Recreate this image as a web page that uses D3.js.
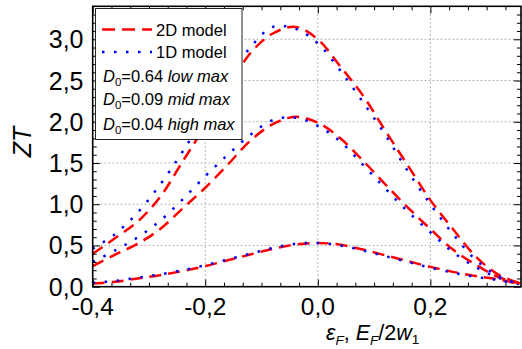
<!DOCTYPE html>
<html>
<head>
<meta charset="utf-8">
<script src="https://cdn.jsdelivr.net/npm/d3@7"></script>
<style>
  html, body { margin: 0; padding: 0; background: #fff; }
  svg { display: block; }
  text { font-family: "Liberation Sans", Arial, sans-serif; }
</style>
</head>
<body>
<svg id="chart" width="522" height="349"></svg>
<script>
// ---- data ----
const xValues = [-0.40,-0.36,-0.32,-0.28,-0.24,-0.20,-0.16,-0.12,-0.08,-0.04,0.00,0.04,0.08,0.12,0.16,0.20,0.24,0.28,0.32,0.36];
const high2D = [0.40,0.59,0.79,1.09,1.52,1.95,2.40,2.83,3.07,3.15,3.00,2.67,2.32,1.89,1.47,1.05,0.70,0.37,0.15,0.04];
const high1D = [0.46,0.64,0.90,1.24,1.64,2.08,2.52,2.90,3.15,3.13,2.95,2.62,2.24,1.84,1.40,1.00,0.64,0.33,0.13,0.03];
const mid2D  = [0.25,0.39,0.52,0.70,0.95,1.20,1.48,1.77,1.97,2.06,1.99,1.80,1.53,1.24,0.96,0.70,0.45,0.27,0.12,0.04];
const mid1D  = [0.30,0.44,0.60,0.80,1.06,1.34,1.60,1.84,2.02,2.05,1.95,1.76,1.48,1.19,0.91,0.66,0.42,0.24,0.11,0.03];
const low2D  = [0.04,0.06,0.10,0.14,0.19,0.25,0.32,0.39,0.46,0.51,0.53,0.51,0.45,0.38,0.31,0.24,0.18,0.13,0.09,0.03];
const low1D  = [0.05,0.07,0.11,0.15,0.20,0.26,0.33,0.40,0.47,0.52,0.53,0.50,0.44,0.37,0.30,0.23,0.17,0.12,0.08,0.03];
const xTickValues = [-0.4,-0.2,0.0,0.2];
const yTickValues = [0.0,0.5,1.0,1.5,2.0,2.5,3.0];
const legendModels = ["2D model","1D model"];
const legendD0 = [["0.64","low max"],["0.09","mid max"],["0.04","high max"]];

// ---- layout ----
const L = 92.7, R = 521, T = 6.3, B = 286.7;
const x = d3.scaleLinear().domain([-0.4, 0.361]).range([L, R]);
const y = d3.scaleLinear().domain([0, 3.4]).range([B, T]);
const svg = d3.select("#chart");
const fmt = v => d3.format(".1f")(v).replace(".", ",").replace("\u2212", "-");

svg.append("defs").append("clipPath").attr("id","clip")
  .append("rect").attr("x",L).attr("y",T).attr("width",R-L).attr("height",B-T);

// grid
const grid = svg.append("g").attr("stroke","#a0a0a0").attr("stroke-width",1).attr("stroke-dasharray","1.5,2.5");
grid.selectAll("line.gx").data([-0.2,0,0.2]).join("line")
  .attr("x1",d=>x(d)).attr("x2",d=>x(d)).attr("y1",T).attr("y2",B);
grid.selectAll("line.gy").data(yTickValues.filter(v=>v>0)).join("line")
  .attr("y1",d=>y(d)).attr("y2",d=>y(d)).attr("x1",L).attr("x2",R);

// curves
const line = d3.line().x(d=>x(d[0])).y(d=>y(d[1])).curve(d3.curveCatmullRom.alpha(0.5));
const series = [
  {v: low2D, c:"#ff0000", dash:"12,7"},
  {v: low1D, c:"#0000ff", dash:"2.5,9.5"},
  {v: mid2D, c:"#ff0000", dash:"12,7"},
  {v: mid1D, c:"#0000ff", dash:"2.5,9.5"},
  {v: high2D, c:"#ff0000", dash:"12,7"},
  {v: high1D, c:"#0000ff", dash:"2.5,9.5"}
];
const cg = svg.append("g").attr("clip-path","url(#clip)");
series.forEach(s => {
  cg.append("path").datum(xValues.map((xv,i)=>[xv, s.v[i]]))
    .attr("d", line).attr("fill","none").attr("stroke", s.c)
    .attr("stroke-width", 2.5).attr("stroke-dasharray", s.dash);
});

// axes (ticks inside)
const xMinor = d3.range(0, 23).map(i => -0.4 + i*0.2/6).filter(v => v <= 0.361);
const yMinor = d3.range(0, 35).map(i => i*0.1).filter(v => v <= 3.4);
const isMajX = v => Math.abs(Math.round(v/0.2)*0.2 - v) < 1e-6;
const isMajY = v => Math.abs(Math.round(v/0.5)*0.5 - v) < 1e-6;

const bottomAxis = d3.axisBottom(x).tickValues(xMinor).tickSizeInner(-4).tickSizeOuter(0).tickFormat("");
const topAxis = d3.axisTop(x).tickValues(xMinor).tickSizeInner(-4).tickSizeOuter(0).tickFormat("");
const leftAxis = d3.axisLeft(y).tickValues(yMinor).tickSizeInner(-4).tickSizeOuter(0).tickFormat("");
const rightAxis = d3.axisRight(y).tickValues(yMinor).tickSizeInner(-4).tickSizeOuter(0).tickFormat("");

function styleAxis(g, majFn, dim) {
  g.select(".domain").remove();
  g.selectAll(".tick line").attr("stroke","#000").attr("stroke-width",1)
    .each(function(d){ if (majFn(d)) { const el = d3.select(this); const k = el.attr(dim); el.attr(dim, k*1.8); } });
}
svg.append("g").attr("transform",`translate(0,${B})`).call(bottomAxis).call(g=>styleAxis(g,isMajX,"y2"));
svg.append("g").attr("transform",`translate(0,${T})`).call(topAxis).call(g=>styleAxis(g,isMajX,"y2"));
svg.append("g").attr("transform",`translate(${L},0)`).call(leftAxis).call(g=>styleAxis(g,isMajY,"x2"));
svg.append("g").attr("transform",`translate(${R},0)`).call(rightAxis).call(g=>styleAxis(g,isMajY,"x2"));

svg.append("rect").attr("x",L).attr("y",T).attr("width",R-L).attr("height",B-T)
  .attr("fill","none").attr("stroke","#000").attr("stroke-width",1.6);

// tick labels
svg.append("g").selectAll("text").data(xTickValues).join("text")
  .attr("x", d=>x(d)).attr("y", 315).attr("text-anchor","middle")
  .attr("font-size", 24.5).text(fmt);
svg.append("g").selectAll("text").data(yTickValues).join("text")
  .attr("x", 83.5).attr("y", d=>y(d)+9).attr("text-anchor","end")
  .attr("font-size", 25).text(fmt);

// axis titles
svg.append("text").attr("transform","translate(30.5,142) rotate(-90)")
  .attr("text-anchor","middle").attr("font-size",25).attr("font-style","italic").text("ZT");

const xt = svg.append("text").attr("x",326).attr("y",340).attr("font-size",21.5);
xt.append("tspan").attr("font-style","italic").text("\u03B5");
xt.append("tspan").attr("font-style","italic").attr("font-size",13.5).attr("dy",5).text("F");
xt.append("tspan").attr("dy",-5).text(", ");
xt.append("tspan").attr("font-style","italic").text("E");
xt.append("tspan").attr("font-style","italic").attr("font-size",13.5).attr("dy",5).text("F");
xt.append("tspan").attr("dy",-5).text("/2");
xt.append("tspan").attr("font-style","italic").text("w");
xt.append("tspan").attr("font-size",13.5).attr("dy",4).text("1");

// legend
const lg = svg.append("g");
lg.append("rect").attr("x",95.5).attr("y",8.5).attr("width",146.5).attr("height",131)
  .attr("fill","#fff").attr("stroke","#222").attr("stroke-width",1);
const sampleStyles = [{c:"#ff0000", dash:"13,7", y:29.5},{c:"#0000ff", dash:"2.5,9.5", y:52}];
legendModels.forEach((name,i) => {
  const s = sampleStyles[i];
  lg.append("line").attr("x1",102).attr("x2",152).attr("y1",s.y).attr("y2",s.y)
    .attr("stroke",s.c).attr("stroke-width",2.5).attr("stroke-dasharray",s.dash);
  lg.append("text").attr("x",156).attr("y",s.y+6).attr("font-size",16.5).text(name);
});
const d0Base = [81.5, 105, 129.5];
legendD0.forEach((row,i) => {
  const t = lg.append("text").attr("x",103).attr("y",d0Base[i]).attr("font-size",16.5);
  t.append("tspan").attr("font-style","italic").text("D");
  t.append("tspan").attr("font-size",11.5).attr("dy",4).text("0");
  t.append("tspan").attr("dy",-4).text("=" + row[0] + " ");
  t.append("tspan").attr("font-style","italic").text(row[1]);
});
</script>
</body>
</html>
